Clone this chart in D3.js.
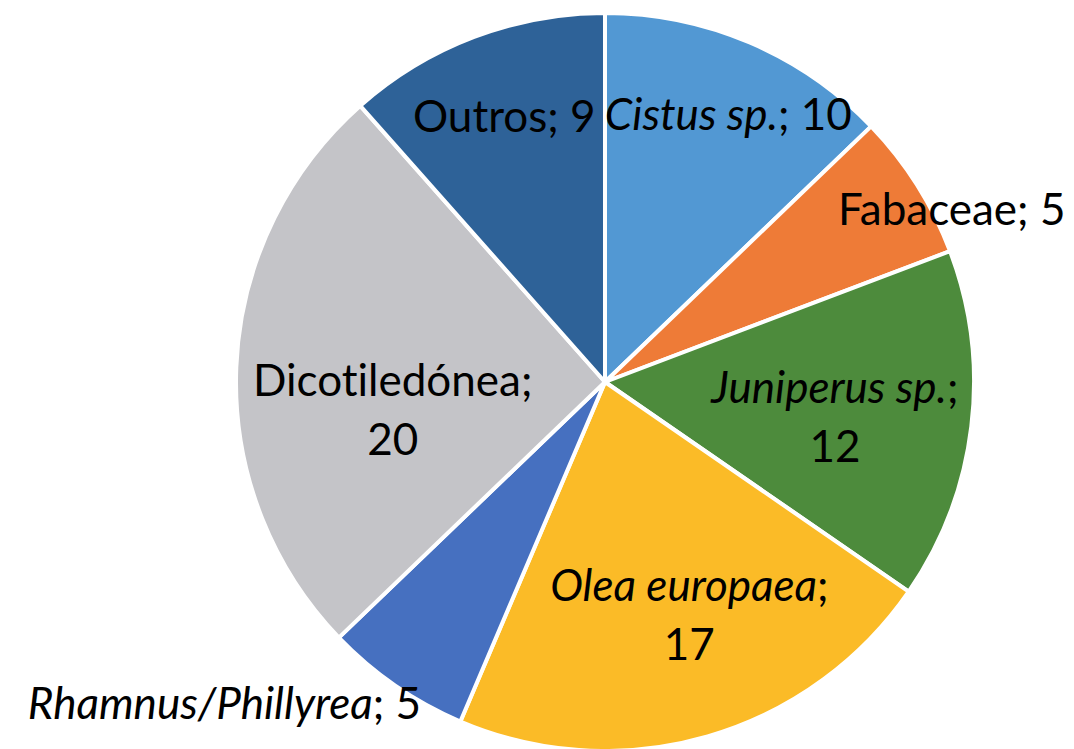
<!DOCTYPE html>
<html>
<head>
<meta charset="utf-8">
<script src="https://cdn.jsdelivr.net/npm/d3@7"></script>
<style>
  html, body { margin: 0; padding: 0; background: #fff; }
  svg { display: block; }
  text { font-variant-ligatures: none; }
</style>
</head>
<body>
<svg id="chart" width="1074" height="749"></svg>
<script>
// slice data, clockwise from 12 o'clock
const names = ["Cistus sp.", "Fabaceae", "Juniperus sp.", "Olea europaea", "Rhamnus/Phillyrea", "Dicotiledónea", "Outros"];
const values = [10, 5, 12, 17, 5, 20, 9];
const italic = [true, false, true, true, true, false, false];
const colors = ["#5298d3", "#ee7b37", "#4d8b3c", "#fbbb27", "#4670c0", "#c4c4c8", "#2e6298"];

// label placement: [radius as fraction of pie radius, angle tweak in degrees, two lines?]
const labelLayout = [
  [0.80, 1.6, false],
  [1.05, 5.8, false],
  [0.63, 1.6, true],
  [0.67, -3.8, true],
  [1.35, 15.2, false],
  [0.58, -9.6, true],
  [0.77, 0.0, false]
];

const width = 1074;
const height = 749;
const cx = 605;
const cy = 382;
const radius = 369;
const fontSize = 44;
const lineHeight = 59;

const svg = d3.select("#chart");

const pie = d3.pie()
  .value(d => d.value)
  .sort(null);

const arcs = pie(names.map((n, i) => ({ name: n, value: values[i], i: i })));

const arc = d3.arc()
  .innerRadius(0)
  .outerRadius(radius);

const g = svg.append("g")
  .attr("transform", `translate(${cx},${cy})`);

g.selectAll("path")
  .data(arcs)
  .join("path")
  .attr("d", arc)
  .attr("fill", d => colors[d.data.i])
  .attr("stroke", "#fff")
  .attr("stroke-width", 4)
  .attr("stroke-linejoin", "round");

const labels = g.append("g")
  .attr("font-family", "Lato, 'Open Sans', sans-serif")
  .attr("font-size", fontSize)
  .attr("fill", "#000")
  .attr("text-anchor", "middle");

arcs.forEach(d => {
  const lay = labelLayout[d.data.i];
  const mid = (d.startAngle + d.endAngle) / 2 + lay[1] * Math.PI / 180;
  const r = radius * lay[0];
  const x = Math.sin(mid) * r;
  const y = -Math.cos(mid) * r;
  const capMid = fontSize * 0.36;

  const text = labels.append("text")
    .attr("x", x);

  if (lay[2]) {
    const y0 = y - lineHeight / 2 + capMid;
    const line1 = text.append("tspan")
      .attr("x", x)
      .attr("y", y0);
    line1.append("tspan")
      .attr("font-style", italic[d.data.i] ? "italic" : "normal")
      .text(d.data.name);
    line1.append("tspan").text(";");
    text.append("tspan")
      .attr("x", x)
      .attr("y", y0 + lineHeight)
      .text(d.data.value);
  } else {
    text.attr("y", y + capMid);
    text.append("tspan")
      .attr("font-style", italic[d.data.i] ? "italic" : "normal")
      .text(d.data.name);
    text.append("tspan").text("; " + d.data.value);
  }
});
</script>
</body>
</html>
